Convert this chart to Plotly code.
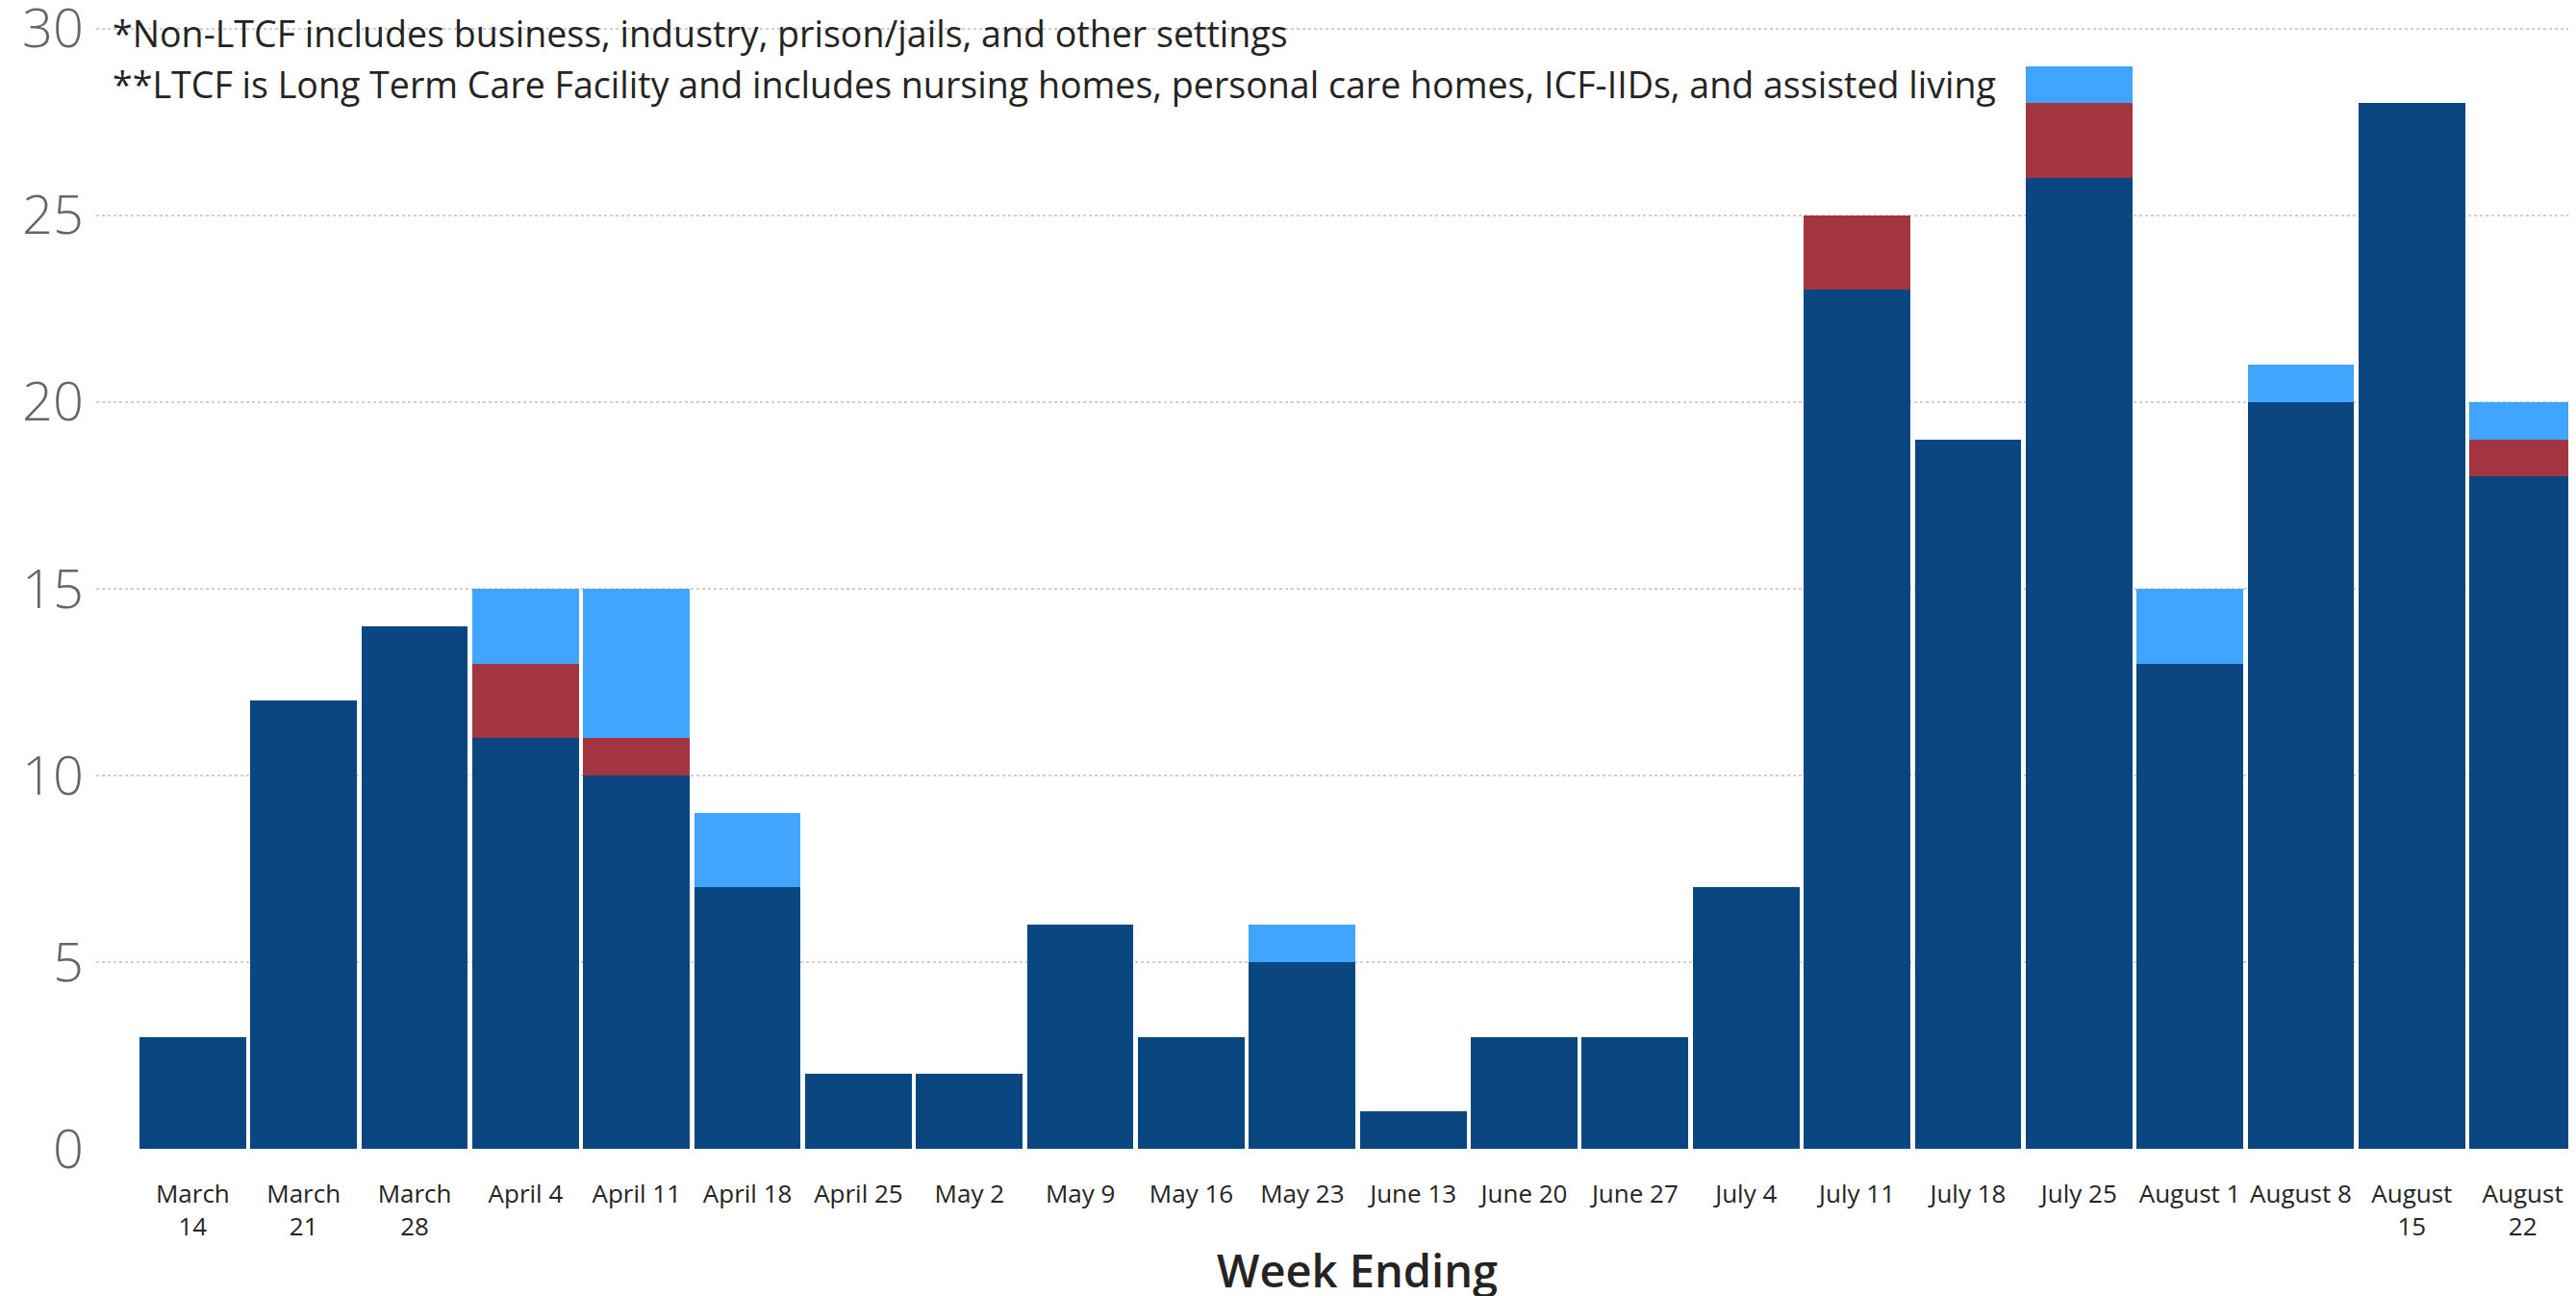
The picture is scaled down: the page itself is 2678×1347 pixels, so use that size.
import plotly.graph_objects as go

weeks = ["March<br>14", "March<br>21", "March<br>28", "April 4", "April 11", "April 18",
         "April 25", "May 2", "May 9", "May 16", "May 23", "June 13", "June 20",
         "June 27", "July 4", "July 11", "July 18", "July 25", "August 1",
         "August 8", "August<br>15", "August<br>22"]
community = [3, 12, 14, 11, 10, 7, 2, 2, 6, 3, 5, 1, 3, 3, 7, 23, 19, 26, 13, 20, 28, 18]
ltcf = [0, 0, 0, 2, 1, 0, 0, 0, 0, 0, 0, 0, 0, 0, 0, 2, 0, 2, 0, 0, 0, 1]
non_ltcf = [0, 0, 0, 2, 4, 2, 0, 0, 0, 0, 1, 0, 0, 0, 0, 0, 0, 1, 2, 1, 0, 1]
y_ticks = [0, 5, 10, 15, 20, 25, 30]
x_title = "Week Ending"
notes = ["*Non-LTCF includes business, industry, prison/jails, and other settings",
         "**LTCF is Long Term Care Facility and includes nursing homes, personal care homes, ICF-IIDs, and assisted living"]

fig = go.Figure()
fig.add_trace(go.Bar(x=weeks, y=community, name="Community", marker_color="#0A4780"))
fig.add_trace(go.Bar(x=weeks, y=ltcf, name="LTCF**", marker_color="#A33540"))
fig.add_trace(go.Bar(x=weeks, y=non_ltcf, name="Non-LTCF*", marker_color="#41A4FF"))

fig.update_traces(marker_line_width=0)

fig.update_layout(
    barmode="stack",
    bargap=0.04,
    width=2670, height=1339,
    margin=dict(l=92, r=0, t=16, b=153),
    plot_bgcolor="white", paper_bgcolor="white",
    showlegend=False,
    font=dict(family="Open Sans", color="#252423"),
)
fig.update_xaxes(
    type="category",
    range=[-0.87, 21.48],
    automargin=False,
    tickfont=dict(size=26, color="#252423", family="Open Sans"),
    showgrid=False, showline=False, zeroline=False,
    ticks="outside", ticklen=24, tickcolor="rgba(0,0,0,0)",
    ticklabeloverflow="allow",
)
fig.update_yaxes(
    range=[0, 30.15],
    automargin=False,
    tickvals=y_ticks,
    tickfont=dict(size=56, color="#666666", family="Open Sans", weight=300),
    showgrid=True, gridcolor="#CFCFCF", griddash="dot", gridwidth=2,
    zeroline=False, showline=False,
    ticks="", ticklabelstandoff=12,
    ticklabeloverflow="allow",
)
fig.add_annotation(text=x_title, xref="paper", yref="paper", x=0.5085, y=-0.1077,
                   xanchor="center", yanchor="middle", showarrow=False,
                   font=dict(size=47, color="#252423", family="Open Sans", weight=600))
for txt, yy in zip(notes, [0.9906, 0.9453]):
    fig.add_annotation(text=txt, xref="paper", yref="paper", x=0.0058, y=yy,
                       xanchor="left", yanchor="middle", showarrow=False,
                       font=dict(size=37.6, color="#252423", family="Open Sans"))

fig.write_html("out.html")
